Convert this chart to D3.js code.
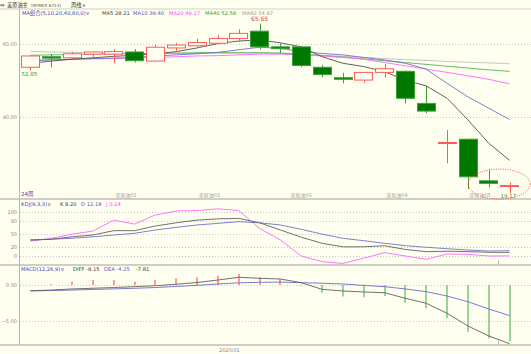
<!DOCTYPE html>
<html>
<head>
<meta charset="utf-8">
<script src="https://cdn.jsdelivr.net/npm/d3@7"></script>
<style>
  body { margin: 0; background: #fffff0; }
  svg { display: block; font-family: "DejaVu Sans", "Noto Sans CJK SC", sans-serif; }
</style>
</head>
<body>
<script>
// weekly bars, week start dates
const weeks = ["2019-10-21","2019-10-28","2019-11-04","2019-11-11","2019-11-18","2019-11-25",
  "2019-12-02","2019-12-09","2019-12-16","2019-12-23","2019-12-30","2020-01-06",
  "2020-01-13","2020-01-20","2020-01-27","2020-02-03","2020-02-10","2020-02-17",
  "2020-02-24","2020-03-02","2020-03-09","2020-03-16","2020-03-23","2020-03-30"];

const open  = [53.7, 56.6, 56.3, 57.3, 57.3, 57.9, 55.4, 59.0, 59.6, 60.3, 61.6, 63.6,
               59.3, 59.3, 53.7, 50.85, 50.2, 52.3, 52.6, 43.8, 33.0, 34.0, 22.6, 21.2];
const high  = [56.9, 57.3, 57.9, 58.0, 58.7, 58.7, 59.8, 60.4, 61.5, 62.5, 64.1, 65.65,
               60.3, 59.5, 54.3, 52.2, 52.4, 54.6, 52.8, 48.6, 36.5, 34.0, 25.6, 22.1];
const low   = [52.85, 53.7, 55.9, 56.3, 54.8, 55.0, 55.4, 57.9, 59.3, 60.0, 60.8, 58.6,
               57.5, 53.7, 51.0, 49.3, 49.5, 51.0, 43.8, 41.1, 27.4, 20.4, 20.8, 19.17];
const close = [56.8, 56.2, 57.4, 57.9, 58.0, 55.5, 59.2, 59.8, 60.5, 61.6, 63.0, 59.3,
               58.8, 54.2, 51.7, 50.4, 52.3, 53.3, 45.2, 41.7, 33.1, 23.7, 21.9, 21.3];

const ma5  = [54.8, 55.4, 55.9, 56.3, 56.7, 57.0, 57.4, 58.0, 59.0, 60.2, 60.9, 61.2,
              60.4, 59.3, 56.6, 54.8, 53.9, 52.5, 50.2, 48.6, 45.2, 39.3, 32.9, 28.21];
const ma10 = [55.5, 55.7, 55.9, 56.1, 56.2, 56.4, 56.8, 57.1, 57.4, 57.8, 58.5, 59.2,
              58.9, 58.0, 57.5, 57.1, 56.4, 55.7, 54.8, 53.2, 49.3, 45.6, 42.5, 39.40];
const ma20 = [55.7, 55.8, 55.9, 56.0, 56.1, 56.3, 56.4, 56.6, 56.8, 56.9, 57.1, 57.3,
              57.3, 57.1, 56.8, 56.4, 55.9, 55.0, 54.1, 53.2, 52.3, 51.4, 50.4, 49.17];
const ma40 = [57.0, 57.1, 57.2, 57.3, 57.4, 57.4, 57.5, 57.6, 57.7, 57.7, 57.7, 57.7,
              57.6, 57.3, 56.9, 56.5, 56.0, 55.5, 55.0, 54.5, 54.0, 53.5, 53.0, 52.58];
const ma60 = [58.0, 57.9, 57.8, 57.7, 57.6, 57.5, 57.5, 57.5, 57.5, 57.6, 57.6, 57.6,
              57.5, 57.3, 57.0, 56.7, 56.4, 56.1, 55.8, 55.6, 55.3, 55.1, 54.9, 54.67];

const kVal = [36.6, 38.2, 44, 48, 58, 58, 68.6, 76, 82, 85, 86, 76,
              59.5, 43, 29, 21, 21, 23.5, 15, 10, 11, 10, 8.5, 8.2];
const dVal = [36.6, 38.5, 40.5, 44, 48, 52, 59.5, 65.6, 71, 74.7, 78.5, 76,
              71, 61, 50, 40.5, 35, 29, 23.6, 20, 16.7, 13.7, 11.4, 12.18];
const jVal = [34, 40.5, 50, 57, 82, 73, 94, 103, 104, 108, 104, 63,
              36.6, 0, -13, -17, -5, 7.6, 0, -7.6, 4.6, 3.8, 0, 0.24];

const diff = [-0.79, -0.7, -0.55, -0.45, -0.35, -0.23, -0.1, 0.1, 0.35, 0.69, 1.07, 0.93,
              0.83, 0.32, -0.6, -0.83, -0.97, -1.07, -1.85, -2.54, -3.93, -5.69, -7.08, -8.15];
const dea  = [-0.83, -0.77, -0.7, -0.62, -0.54, -0.46, -0.35, -0.2, -0.05, 0.14, 0.3, 0.37,
              0.4, 0.32, 0.25, 0.14, -0.05, -0.23, -0.55, -0.93, -1.53, -2.32, -3.33, -4.25];
const macd = [0.05, 0.14, 0.46, 0.69, 0.69, 0.46, 0.69, 0.93, 1.07, 1.3, 1.53, 1.07,
              0.83, -0.08, -1.07, -1.6, -1.7, -1.53, -2.45, -3.24, -4.63, -6.49, -7.4, -7.81];

const priceTicks = [60, 40];
const kdTicks = [100, 80, 50, 20, 0];
const macdTicks = [0, -5];
// contract roll labels: [bar index, text]
const rolls = [[4, "美原油01"], [8, "美原油02"], [12.4, "美原油03"], [17, "美原油04"], [21, "美原油05"]];

const W = 531, H = 354;
const bg = "#fffff0";
const left = 20, right = W;

const svg = d3.create("svg").attr("width", W).attr("height", H);
document.body.appendChild(svg.node());
svg.append("rect").attr("width", W).attr("height", H).attr("fill", bg);

const x = d3.scaleBand().domain(d3.range(weeks.length)).range([20, 520])
  .paddingInner(0.1).paddingOuter(0.05);
const cx = i => x(i) + x.bandwidth() / 2;
const cxf = d3.scaleLinear().domain([0, weeks.length - 1]).range([cx(0), cx(weeks.length - 1)]);

const y = d3.scaleLinear().domain([40, 60]).range([117.3, 44.3]);
const yk = d3.scaleLinear().domain([0, 100]).range([256, 212.3]);
const ym = d3.scaleLinear().domain([-5, 0]).range([321, 285]);

// panel frames
const sepColor = "#cfcfc6";
[9, 199, 265, 345].forEach((yy, i) => {
  svg.append("line").attr("x1", 0).attr("x2", W).attr("y1", yy).attr("y2", yy)
    .attr("stroke", sepColor).attr("stroke-width", i ? 2 : 1);
});
svg.append("line").attr("x1", left - 0.5).attr("x2", left - 0.5).attr("y1", 9).attr("y2", 345)
  .attr("stroke", "#b8b8b0");

// grid + axis labels
const grid = (scale, ticks, fmt) => {
  ticks.forEach(t => {
    svg.append("line").attr("x1", left).attr("x2", right)
      .attr("y1", Math.round(scale(t)) + 0.5).attr("y2", Math.round(scale(t)) + 0.5)
      .attr("stroke", "#c8c8c8").attr("stroke-dasharray", "1,2");
    svg.append("text").attr("x", 17).attr("y", scale(t) + 1.8)
      .attr("text-anchor", "end").attr("font-size", 5).attr("fill", "#8a8a8a").text(fmt(t));
  });
};
grid(y, priceTicks, d3.format(".2f"));
grid(yk, kdTicks, d3.format("d"));
grid(ym, macdTicks, d3.format(".2f"));

// MA lines
const maLine = d3.line().x((d, i) => cx(i)).y(d => y(d));
[[ma60, "#bdbdbd"], [ma40, "#5cb05c"], [ma20, "#ff66ff"], [ma10, "#7070d0"], [ma5, "#505050"]]
  .forEach(([s, c]) => {
    svg.append("path").datum(s).attr("d", maLine).attr("fill", "none")
      .attr("stroke", c).attr("stroke-width", 0.9);
  });

// candles
const idx = d3.range(weeks.length);
const up = i => close[i] >= open[i];
const redC = "#ff5a5a", grnFill = "#007800", grnStroke = "#3f9f3f";
svg.append("g").selectAll("line").data(idx).join("line")
  .attr("x1", i => Math.round(cx(i)) + 0.5).attr("x2", i => Math.round(cx(i)) + 0.5)
  .attr("y1", i => y(high[i])).attr("y2", i => y(low[i]))
  .attr("stroke", i => up(i) ? redC : grnStroke);
svg.append("g").selectAll("rect").data(idx).join("rect")
  .attr("x", i => Math.round(x(i)) + 0.5).attr("width", Math.round(x.bandwidth()) - 1)
  .attr("y", i => y(Math.max(open[i], close[i])))
  .attr("height", i => Math.max(1, Math.abs(y(open[i]) - y(close[i]))))
  .attr("fill", i => up(i) ? bg : grnFill)
  .attr("stroke", i => up(i) ? redC : grnStroke);

// high / low annotations
const hiI = d3.maxIndex(high);
svg.append("text").attr("x", cx(hiI)).attr("y", y(high[hiI]) - 3).attr("text-anchor", "middle")
  .attr("font-size", 6).attr("fill", "#e04040").text(high[hiI].toFixed(2));
svg.append("text").attr("x", cx(0) - 9).attr("y", y(low[0]) + 5.5)
  .attr("font-size", 5.5).attr("fill", "#2e9a2e").text(low[0].toFixed(2));
const loI = d3.minIndex(low);
svg.append("text").attr("x", cx(loI) - 9).attr("y", 198)
  .attr("font-size", 5.5).attr("fill", "#2e9a2e").text(low[loI].toFixed(2));

// dotted ellipse around the last two bars
svg.append("ellipse").attr("cx", (cx(22) + cx(23)) / 2).attr("cy", y(21.7))
  .attr("rx", 31).attr("ry", 15).attr("fill", "none")
  .attr("stroke", "#ff3030").attr("stroke-width", 0.9).attr("stroke-dasharray", "1,1.3");

// bottom labels of main panel
svg.append("text").attr("x", 21).attr("y", 196).attr("font-size", 5.5)
  .attr("fill", "#4040a0").text(weeks.length + "周");
rolls.forEach(([i, t]) => {
  svg.append("text").attr("x", cxf(i)).attr("y", 197).attr("font-size", 5)
    .attr("fill", "#a0a0a0").text(":" + t);
});

// KDJ
const kdLine = d3.line().x((d, i) => cx(i)).y(d => yk(d));
[[jVal, "#ff66ff"], [dVal, "#7070c8"], [kVal, "#606060"]].forEach(([s, c]) => {
  svg.append("path").datum(s).attr("d", kdLine).attr("fill", "none")
    .attr("stroke", c).attr("stroke-width", 0.9);
});

// MACD histogram
svg.append("g").selectAll("line").data(idx).join("line")
  .attr("x1", i => Math.round(cx(i))).attr("x2", i => Math.round(cx(i)))
  .attr("y1", ym(0)).attr("y2", i => ym(macd[i]))
  .attr("stroke", i => macd[i] >= 0 ? "#ff7a7a" : "#7cc47c").attr("stroke-width", 1.5);
const mLine = d3.line().x((d, i) => cx(i)).y(d => ym(d));
[[dea, "#6a6ad0"], [diff, "#606060"]].forEach(([s, c]) => {
  svg.append("path").datum(s).attr("d", mLine).attr("fill", "none")
    .attr("stroke", c).attr("stroke-width", 0.9);
});

// month marks
svg.append("text").attr("x", x(10)).attr("y", 351.5).attr("text-anchor", "middle")
  .attr("font-size", 5).attr("fill", "#8a8a8a").text("2020/01");
[[260, 265], [340, 345]].forEach(([a, b]) => {
  svg.append("line").attr("x1", Math.round(x(23)) - 1.5).attr("x2", Math.round(x(23)) - 1.5)
    .attr("y1", a).attr("y2", b).attr("stroke", "#c0c0c0");
});

// header texts
const label = (parts, yy) => {
  parts.forEach(([xx, t, c, fs]) => {
    svg.append("text").attr("x", xx).attr("y", yy).attr("font-size", fs || 5.2)
      .attr("fill", c).text(t);
  });
};
label([[0, "⇔", "#404040", 5.5], [7, "美原油主", "#303030", 5.2], [31, "(NYMEX 6713)", "#505050", 4.2],
       [71, "周线", "#303030", 5.2], [82, "∨", "#404040", 5]], 6.5);
label([[22, "MA组合(5,10,20,40,60,0)∨", "#4444bb"], [102, "MA5 " + ma5[23].toFixed(2), "#404040"],
       [133, "MA10 " + ma10[23].toFixed(2), "#5555cc"], [169, "MA20 " + ma20[23].toFixed(2), "#ff44ff"],
       [205, "MA40 " + ma40[23].toFixed(2), "#339933"], [242, "MA60 " + ma60[23].toFixed(2), "#999999"]], 15);
label([[21, "KDJ(9,3,3)∨", "#4444bb"], [60, "K " + kVal[23].toFixed(2), "#404040"],
       [81, "D " + dVal[23].toFixed(2), "#5555cc"], [106, "J " + jVal[23].toFixed(2), "#ff44ff"]], 206);
label([[21, "MACD(12,26,9)∨", "#4444bb"], [73, "DIFF " + diff[23].toFixed(2), "#404040"],
       [104, "DEA " + dea[23].toFixed(2), "#5555cc"], [136, macd[23].toFixed(2), "#404040"]], 271);
</script>
</body>
</html>
